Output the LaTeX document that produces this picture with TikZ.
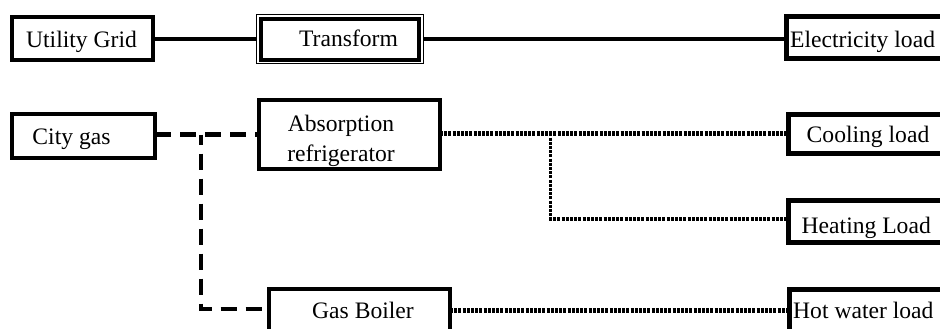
\documentclass[tikz,border=0pt]{standalone}
\usepackage{fontspec}
\setmainfont{Liberation Serif}
\begin{document}
\begin{tikzpicture}[x=1pt,y=-1pt,
  box/.style={draw=black, line width=4pt, rectangle, inner sep=0pt, outer sep=0pt, anchor=north west},
  loadbox/.style={draw=black, line width=5pt, rectangle, inner sep=0pt, outer sep=0pt, anchor=north west},
  lbl/.style={inner sep=0pt, anchor=base, font=\fontsize{23.6}{28.5}\selectfont},
  lblw/.style={inner sep=0pt, anchor=base west, font=\fontsize{23.6}{28.5}\selectfont},
  elec/.style={draw=black, line width=4pt},
  gas/.style={draw=black, line width=4.3pt, dash pattern=on 16pt off 9pt},
  heat/.style={draw=black, line width=4.5pt, dash pattern=on 3pt off 1.2pt},
  heatthin/.style={draw=black, line width=3.5pt, dash pattern=on 3pt off 1.2pt}]
\useasboundingbox (0,0) rectangle (940,329);
\clip (0,0) rectangle (940,329);
\fill[white] (0,0) rectangle (940,329);

% boxes (border centre lines)
\node[box, minimum width=141pt, minimum height=43pt] (ug) at (12,17) {};
\node[draw=black, line width=1.2pt, rectangle, inner sep=0pt, outer sep=0pt, anchor=north west,
      minimum width=166.6pt, minimum height=49.3pt] (trout) at (256.7,14.5) {};
\node[box, minimum width=157.4pt, minimum height=41pt] (tr) at (261.3,19.3) {};
\node[loadbox, minimum width=200pt, minimum height=42.5pt] (el) at (786,16.5) {};

\node[box, minimum width=143pt, minimum height=44pt] (cg) at (12,114) {};
\node[box, minimum width=181pt, minimum height=69pt] (ar) at (259,100) {};
\node[loadbox, minimum width=200pt, minimum height=39pt] (cl) at (788,114) {};
\node[loadbox, minimum width=200pt, minimum height=42pt] (hl) at (788,200.8) {};

\node[box, minimum width=181pt, minimum height=80pt] (gb) at (269,289) {};
\node[loadbox, minimum width=200pt, minimum height=60pt] (hw) at (789,289) {};

% texts
\node[lbl] (tug) at (81.5,47.5) {Utility Grid};
\node[lbl] (ttr) at (348.5,47) {Transform};
\node[lblw] (tel) at (790,47.5) {Electricity load};
\node[lbl] (tcg) at (71.5,144) {City gas};
\node[lbl] (tar1) at (341,131.5) {Absorption};
\node[lbl] (tar2) at (341,161.5) {refrigerator};
\node[lblw] (tcl) at (806.5,142.7) {Cooling load};
\node[lblw] (thl) at (801.5,233.3) {Heating Load};
\node[lbl] (tgb) at (363,318) {Gas Boiler};
\node[lblw] (thw) at (793,318) {Hot water load};

% coordinates
\coordinate (j1) at (201,134.5);
\coordinate (j2) at (550.7,133.3);
\coordinate (j3) at (550.7,219);

% electricity
\draw[elec] (ug.east |- 0,38.7) -- (trout.west |- 0,38.7);
\draw[elec] (trout.east |- 0,38.7) -- (el.west |- 0,38.7);

% gas
\draw[gas] (cg.east |- j1) -- (ar.west |- j1);
\draw[gas, dash phase=6pt] (j1) -- (j1 |- 0,309) -- (gb.west |- 0,309);

% heat
\draw[heat] (ar.east |- j2) -- (cl.west |- j2);
\draw[heatthin] (j2) -- (j3) -- (hl.west |- j3);
\draw[heat] (gb.east |- 0,310.3) -- (hw.west |- 0,310.3);
\end{tikzpicture}
\end{document}
